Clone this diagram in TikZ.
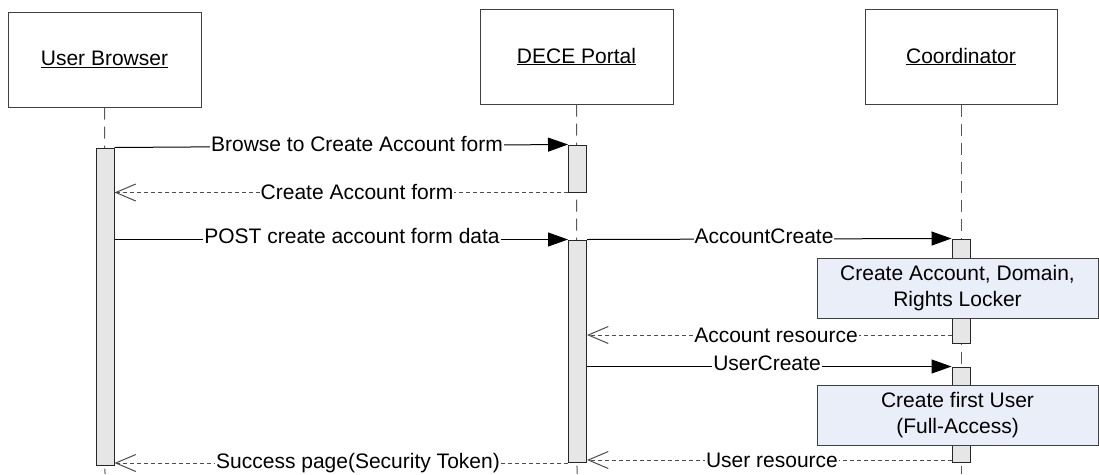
\documentclass[tikz,border=0pt]{standalone}
\usepackage{fontspec}
\setmainfont{Liberation Sans}
\usetikzlibrary{arrows.meta}
\definecolor{notefill}{HTML}{E9EEF8}
\definecolor{actfill}{HTML}{E6E6E6}
\begin{document}
\begin{tikzpicture}[x=1pt,y=-1pt,
  font=\fontsize{21}{26}\selectfont,
  head/.style={draw=black!75, line width=1pt, fill=white, minimum width=193pt, minimum height=95pt, inner sep=0pt},
  life/.style={draw=black!65, line width=1pt, dash pattern=on 12pt off 7pt},
  act/.style={draw=black!85, fill=actfill, line width=1pt, minimum width=18pt, inner sep=0pt},
  note/.style={draw=black!75, fill=notefill, line width=1pt, minimum width=281pt, minimum height=60pt, align=center, inner sep=0pt},
  call/.style={draw=black, line width=1pt, -{Triangle[length=20pt,width=14pt]}},
  ret/.style={draw=black!70, line width=1pt, dash pattern=on 4pt off 3pt, -{Straight Barb[length=20pt,width=17pt]}},
  lbl/.style={fill=white, inner sep=1pt},
  lblb/.style={fill=white, inner sep=1pt, anchor=base}
]
\useasboundingbox (0,0) rectangle (1099,474);
% headers
\node[head] (ub) at (104.5,59.5) {\underline{User Browser}};
\node[head] (dp) at (576.5,56.5) {\underline{DECE Portal}};
\node[head, minimum width=192pt] (co) at (961,56.5) {\underline{Coordinator}};
% lifelines
\coordinate (ubEnd) at (105,474);
\coordinate (dpEnd) at (577,474);
\coordinate (coEnd) at (961,474);
\draw[life] (ub.south) -- (ubEnd);
\draw[life] (dp.south) -- (dpEnd);
\draw[life] (co.south) -- (coEnd);
% activation bars
\node[act, minimum height=317pt] (ubA) at (105,306.5) {};
\node[act, minimum height=47pt] (dpA1) at (577.5,168.5) {};
\node[act, minimum height=222pt] (dpA2) at (577.5,351) {};
\node[act, minimum height=104pt] (coA1) at (961,291) {};
\node[act, minimum height=95pt] (coA2) at (961,414.5) {};
% messages
\draw[call] (ubA.north east) -- (dpA1.north west);
\node[lblb] (m1) at (357,151) {Browse to Create Account form};
\draw[ret] (dpA1.south west) -- (ubA.east |- dpA1.south);
\node[lbl] (m2) at (357,192) {Create Account form};
\draw[call] (ubA.east |- dpA2.north) -- (dpA2.north west);
\node[lblb] (m3) at (352,243) {POST create account form data};
\draw[call] (dpA2.north east) -- (coA1.north west);
\node[lblb] (m4) at (764,243) {AccountCreate};
\coordinate (r1s) at (952,335);
\draw[ret] (r1s) -- (dpA2.east |- r1s);
\node[lbl] (m5) at (776,335) {Account resource};
\draw[call] (dpA2.east |- coA2.north) -- (coA2.north west);
\node[lblb] (m6) at (767,370) {UserCreate};
\coordinate (r2s) at (952,460);
\draw[ret] (r2s) -- (dpA2.east |- r2s);
\node[lbl] (m7) at (772,460) {User resource};
\coordinate (r3s) at (568,463);
\draw[ret] (r3s) -- (ubA.east |- r3s);
\node[lbl] (m8) at (358,463) {Success page(Security Token)};
% notes
\node[note] (n1) at (957.5,288) {Create Account, Domain,\\Rights Locker};
\node[note] (n2) at (957.5,415) {Create first User\\(Full-Access)};
\end{tikzpicture}
\end{document}
